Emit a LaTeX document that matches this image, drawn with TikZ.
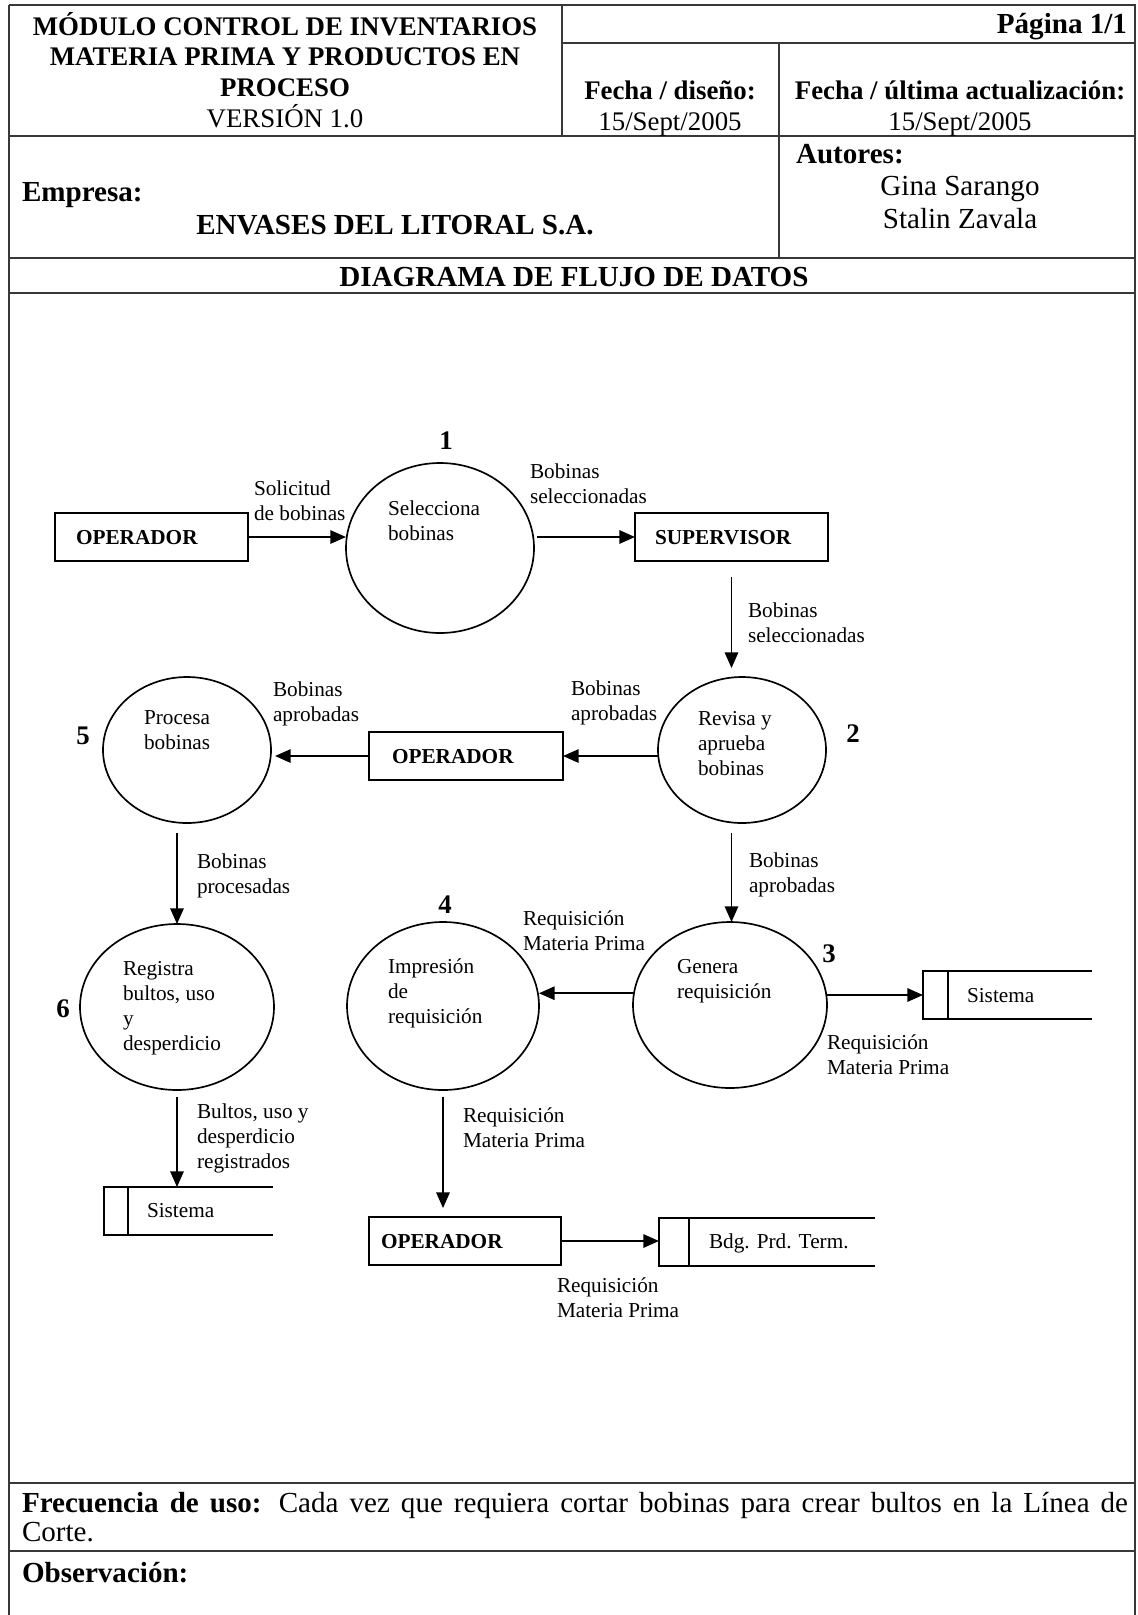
\documentclass[tikz,border=0pt]{standalone}
\usepackage{fontspec}
\setmainfont{Liberation Serif}
\usetikzlibrary{shapes.geometric,arrows.meta,calc}

% font sizes used in the sheet
\newcommand\lblfont{\fontsize{9.5}{11.2}\selectfont}
\newcommand\entfont{\fontsize{9.5}{11.2}\selectfont\bfseries}
\newcommand\numfont{\fontsize{12}{14}\selectfont\bfseries}
\newcommand\hdfont{\fontsize{12}{13.8}\selectfont}
\newcommand\hdbigfont{\fontsize{13}{14.8}\selectfont}
\newcommand\ftfont{\fontsize{13}{13.4}\selectfont\hyphenpenalty=10000\exhyphenpenalty=10000}

% open-ended data store drawn around a (borderless) node
\newcommand\dfdstore[2]{%
  \draw[shape line] (#1.north east) -- (#1.north west) -- (#1.south west) -- (#1.south east);
  \draw[shape line] ($(#1.north west)+(#2,0)$) -- ($(#1.south west)+(#2,0)$);
}

\begin{document}
\begin{tikzpicture}[x=0.447pt, y=-0.447pt,
  every node/.style={inner sep=0pt, outer sep=0pt},
  frame/.style={line width=1.1pt, draw=black!78},
  shape line/.style={line width=0.75pt, draw=black},
  process/.style={ellipse, draw, line width=0.75pt},
  entity/.style={rectangle, draw, line width=0.75pt, minimum height=21.46pt,
                 align=left, font=\entfont, text height=6.3pt, text depth=0pt},
  datastore/.style={rectangle, minimum height=21.46pt},
  flow/.style={draw, line width=0.75pt, -{Triangle[length=7pt,width=6pt]}},
  lbl/.style={font=\lblfont, align=left, anchor=north west},
  storetext/.style={font=\lblfont, anchor=base west},
  procnum/.style={font=\numfont, anchor=base},
]
\fill[white] (0,0) rectangle (1138,1615);
\useasboundingbox (0,0) rectangle (1138,1615);

% ---------- sheet frame ----------
\draw[frame] (9,5) -- (1136,5);
\draw[frame] (9,5) -- (9,1615);
\draw[frame] (1135,5) -- (1135,1615);
\draw[frame] (562,5) -- (562,136);
\draw[frame] (562,43) -- (1136,43);
\draw[frame] (779,43) -- (779,258);
\draw[frame] (9,136) -- (1136,136);
\draw[frame] (9,258) -- (1136,258);
\draw[frame] (9,293) -- (1136,293);
\draw[frame] (9,1483) -- (1136,1483);
\draw[frame] (9,1551) -- (1136,1551);

% ---------- header ----------
\node[font=\hdfont, align=center, anchor=north] (titulo) at (285,12)
  {\strut\textbf{MÓDULO CONTROL DE INVENTARIOS}\\\textbf{MATERIA PRIMA Y PRODUCTOS EN}\\\textbf{PROCESO}\\VERSIÓN 1.0};
\node[font=\hdbigfont\bfseries, anchor=base east] (pagina) at (1127,33) {Página 1/1};
\node[font=\hdfont, align=center, anchor=north] (fdiseno) at (670,78)
  {\strut\textbf{Fecha / diseño:}\\15/Sept/2005};
\node[font=\hdfont, align=center, anchor=north] (factual) at (960,78)
  {\strut\textbf{Fecha / última actualización:}\\15/Sept/2005};
\node[font=\hdbigfont\bfseries, anchor=base west] (empresa) at (22,201) {Empresa:};
\node[font=\hdbigfont\bfseries, anchor=base] (envases) at (395,234) {ENVASES DEL LITORAL S.A.};
\node[font=\hdbigfont\bfseries, anchor=base west] (autores) at (796,163) {Autores:};
\node[font=\hdbigfont, align=center, anchor=north] (nombres) at (960,172)
  {\strut Gina Sarango\\Stalin Zavala};
\node[font=\hdbigfont\bfseries, anchor=base] (dfd) at (574,286) {DIAGRAMA DE FLUJO DE DATOS};

% ---------- processes ----------
\node[process, minimum width=84.04pt, minimum height=75.99pt] (c1) at (440,548) {};
\node[process, minimum width=75.10pt, minimum height=65.26pt] (c2) at (742,750) {};
\node[process, minimum width=86.72pt, minimum height=74.20pt] (c3) at (730,1005) {};
\node[process, minimum width=85.82pt, minimum height=75.10pt] (c4) at (443,1006) {};
\node[process, minimum width=75.10pt, minimum height=65.26pt] (c5) at (187,750) {};
\node[process, minimum width=86.72pt, minimum height=74.20pt] (c6) at (177,1007) {};

\node[procnum] (n1) at (446,449) {1};
\node[procnum] (n2) at (853,742) {2};
\node[procnum] (n3) at (829,962) {3};
\node[procnum] (n4) at (445,913) {4};
\node[procnum] (n5) at (83,744) {5};
\node[procnum] (n6) at (63,1017) {6};

\node[lbl] (t-c1) at (388,498) {\strut Selecciona\\bobinas};
\node[lbl] (t-c2) at (698,708) {\strut Revisa y\\aprueba\\bobinas};
\node[lbl] (t-c3) at (677,956) {\strut Genera\\requisición};
\node[lbl] (t-c4) at (388,956) {\strut Impresión\\de\\requisición};
\node[lbl] (t-c5) at (144,707) {\strut Procesa\\bobinas};
\node[lbl] (t-c6) at (123,958) {\strut Registra\\bultos, uso\\y\\desperdicio};

% ---------- external entities ----------
\node[entity, minimum width=86.27pt, text width=67.49pt, inner xsep=9.39pt] (op1) at (151.5,537) {OPERADOR};
\node[entity, minimum width=86.27pt, text width=68.39pt, inner xsep=8.94pt] (sup) at (731.5,537) {SUPERVISOR};
\node[entity, minimum width=86.72pt, text width=66.16pt, inner xsep=10.28pt] (op2) at (466,756) {OPERADOR};
\node[entity, minimum width=85.82pt, text width=75.10pt, inner xsep=5.36pt] (op3) at (465,1241) {OPERADOR};

% ---------- data stores ----------
\node[datastore, minimum width=75.54pt] (s1) at (188.5,1211) {};
\node[datastore, minimum width=75.54pt] (s2) at (1007.5,995) {};
\node[datastore, minimum width=96.55pt] (bdg) at (767,1242) {};
\dfdstore{s1}{24}
\dfdstore{s2}{25}
\dfdstore{bdg}{30}
\node[storetext] (t-s1) at (147,1217) {Sistema};
\node[storetext] (t-s2) at (967,1002) {Sistema};
\node[storetext] (t-bdg) at (709,1248) {Bdg. Prd. Term.};

% ---------- data flows ----------
\draw[flow] (op1.east) -- (op1.east -| c1.west);
\draw[flow, shorten <=1.3pt] (c1.east |- sup.west) -- (sup.west);
\draw[flow, shorten <=7.2pt, shorten >=4pt] (sup.south) -- (sup.south |- c2.north);
\draw[flow] (c2.west |- op2.east) -- (op2.east);
\draw[flow, shorten >=1.8pt] (op2.west) -- (op2.west -| c5.east);
\draw[flow, shorten <=4.5pt] (c5.south -| c6.north) -- (c6.north);
\draw[flow, shorten <=3.1pt] (c6.south) -- (c6.south |- s1.north);
\draw[flow, shorten <=4.5pt] (sup.south |- c2.south) -- (sup.south |- c3.north);
\draw[flow] (c3.173) -- (c4.east |- c3.173);
\draw[flow] (c3.east |- s2.west) -- (s2.west);
\draw[flow, shorten <=3.1pt, shorten >=4pt] (c4.south) -- (c4.south |- op3.north);
\draw[flow] (op3.east) -- (op3.east -| bdg.west);

% ---------- flow labels ----------
\node[lbl] (l-solicitud) at (254,478) {\strut Solicitud\\de bobinas};
\node[lbl] (l-selec1) at (530,461) {\strut Bobinas\\seleccionadas};
\node[lbl] (l-selec2) at (748,600) {\strut Bobinas\\seleccionadas};
\node[lbl] (l-aprob1) at (273,679) {\strut Bobinas\\aprobadas};
\node[lbl] (l-aprob2) at (571,678) {\strut Bobinas\\aprobadas};
\node[lbl] (l-proc) at (197,851) {\strut Bobinas\\procesadas};
\node[lbl] (l-aprob3) at (749,850) {\strut Bobinas\\aprobadas};
\node[lbl] (l-req1) at (523,908) {\strut Requisición\\Materia Prima};
\node[lbl] (l-req2) at (827,1032) {\strut Requisición\\Materia Prima};
\node[lbl] (l-bultos) at (197,1101) {\strut Bultos, uso y\\desperdicio\\registrados};
\node[lbl] (l-req3) at (463,1105) {\strut Requisición\\Materia Prima};
\node[lbl] (l-req4) at (557,1275) {\strut Requisición\\Materia Prima};

% ---------- footer ----------
\node[font=\ftfont, text width=494.4pt, align=justify, anchor=north west] (frecuencia) at (22,1491)
  {\strut\textbf{Frecuencia de uso:} Cada vez que requiera cortar bobinas para crear bultos en la Línea de\linebreak Corte.};
\node[font=\hdbigfont\bfseries, anchor=base west] (observ) at (22,1582) {Observación:};
\end{tikzpicture}
\end{document}
